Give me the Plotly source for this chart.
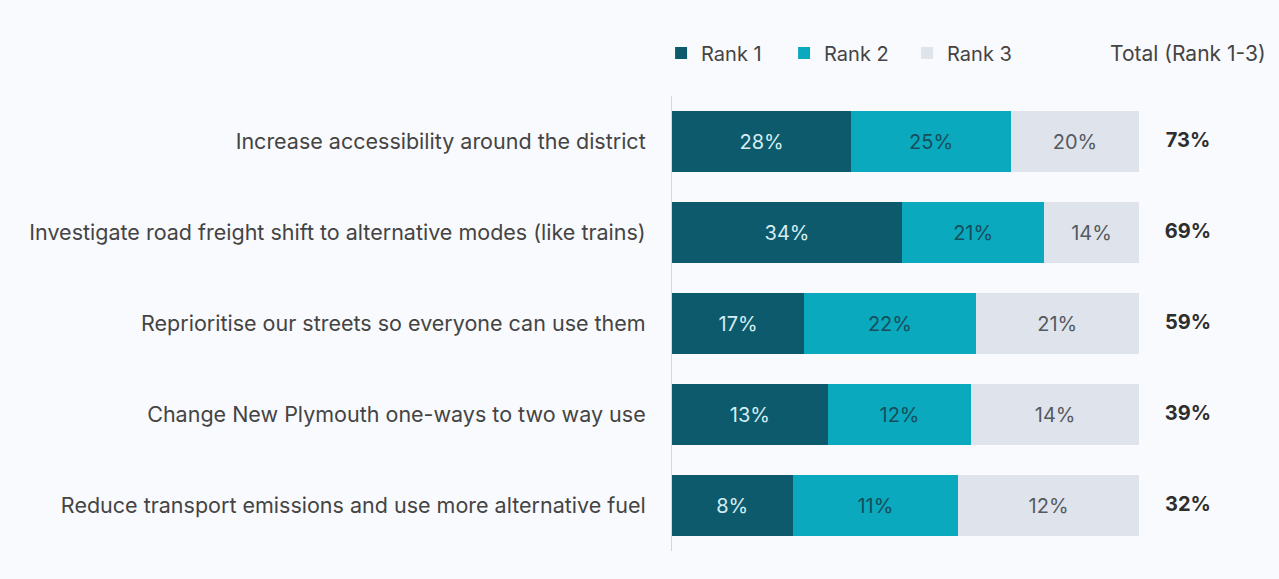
import plotly.graph_objects as go

categories = [
    "Increase accessibility around the district",
    "Investigate road freight shift to alternative modes (like trains)",
    "Reprioritise our streets so everyone can use them",
    "Change New Plymouth one-ways to two way use",
    "Reduce transport emissions and use more alternative fuel",
]
rank1 = [28, 34, 17, 13, 8]
rank2 = [25, 21, 22, 12, 11]
rank3 = [20, 14, 21, 14, 12]
totals = [73, 69, 59, 39, 32]

series = [
    ("Rank 1", rank1, "#0d5a6c", "#d4edf2"),
    ("Rank 2", rank2, "#0aa9bd", "#164e5c"),
    ("Rank 3", rank3, "#dfe4ec", "#555a60"),
]

TOTAL_X = 110.5
BG = "#f9fafd"

fig = go.Figure()
for name, vals, color, txtcolor in series:
    fig.add_trace(go.Bar(
        y=categories, x=vals, name=name, orientation="h",
        marker=dict(color=color, line=dict(width=0)),
        text=[f"{v}%" for v in vals], textposition="inside",
        insidetextanchor="middle", textangle=0,
        textfont=dict(color=txtcolor, size=20, family="Inter"),
        hoverinfo="skip",
    ))

# total column
fig.add_trace(go.Scatter(
    y=categories, x=[TOTAL_X] * len(categories), mode="text",
    text=[f"<b>{t}%</b>" for t in totals],
    textfont=dict(size=20, color="#2e2e2e", family="Inter"),
    showlegend=False, hoverinfo="skip",
))

fig.add_annotation(
    text="Total (Rank 1-3)", x=TOTAL_X, xref="x", y=1.0945, yref="paper",
    showarrow=False, xanchor="center", yanchor="middle",
    font=dict(size=21, color="#444", family="Inter"),
)

fig.update_layout(
    barmode="stack", barnorm="percent", bargap=0.34,
    width=1279, height=579,
    margin=dict(l=672, r=0, t=96, b=28),
    paper_bgcolor=BG, plot_bgcolor=BG,
    font=dict(family="Inter", color="#3a3a3a"),
    legend=dict(
        orientation="h", x=-0.018, xanchor="left", y=1.0945, yanchor="middle",
        entrywidth=78, entrywidthmode="pixels", itemwidth=30,
        font=dict(size=20, color="#444", family="Inter"),
        bgcolor="rgba(0,0,0,0)", traceorder="normal",
    ),
    xaxis=dict(range=[0, 130], visible=False, showgrid=False, zeroline=False),
    yaxis=dict(
        autorange="reversed", showgrid=False, zeroline=False,
        showline=True, linecolor="#d3d6db", linewidth=1,
        ticks="", ticklabelstandoff=21,
        tickfont=dict(size=21.5, color="#444", family="Inter"),
    ),
)

fig.write_html(
    "out.html",
    config={"displayModeBar": False},
    post_script="document.body.style.margin='0';document.body.style.background='%s';" % BG,
)
